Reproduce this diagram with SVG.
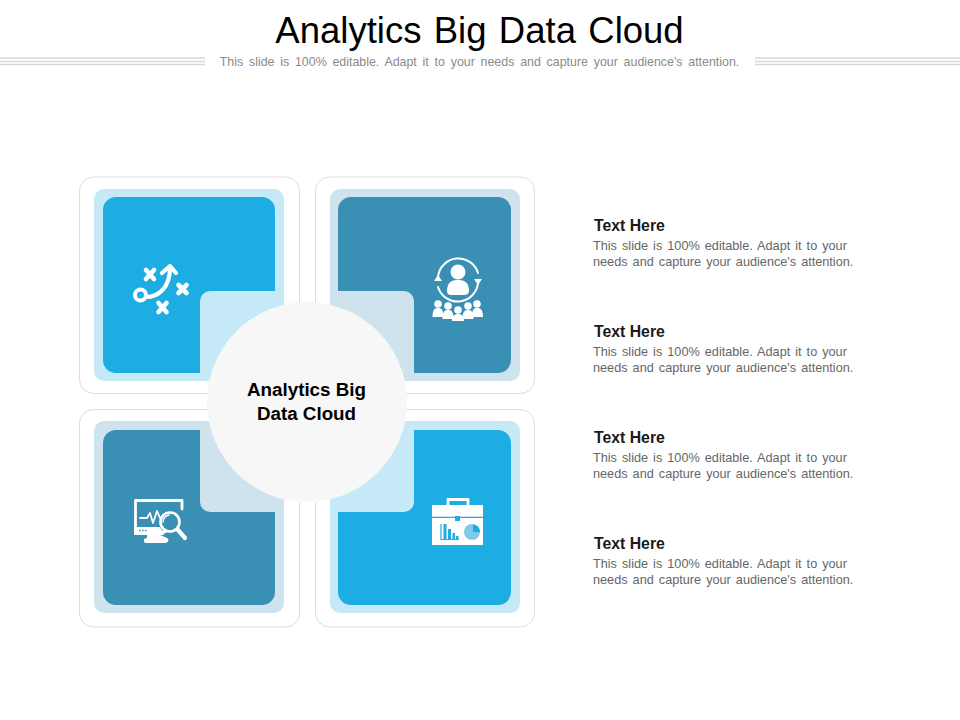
<svg xmlns="http://www.w3.org/2000/svg" width="960" height="720" viewBox="0 0 960 720">
<style>
text{font-family:"Liberation Sans",Arial,sans-serif}
.card{fill:#fff;stroke:#dcdcdc;stroke-width:1}
.lb{fill:#c6e9f7}.lt{fill:#cfe3ee}.b{fill:#1dade3}.t{fill:#3a8fb5}
.h{font-size:15.800px;font-weight:bold;fill:#1a1a1a}
.d{font-size:12.700px;fill:#666;word-spacing:1.500px}
.w{fill:#fff}.ws{fill:none;stroke:#fff;stroke-linecap:round;stroke-linejoin:round}
.rule{stroke:#d9d9d9;fill:none}
</style>
<rect width="960" height="720" fill="#fff"/>
<g id="header">
<text x="479.500" y="43" font-size="36.500" text-anchor="middle" fill="#000" word-spacing="2.200">Analytics Big Data Cloud</text>
<text x="479.500" y="65.500" font-size="12.400" text-anchor="middle" fill="#8a8a8a" word-spacing="2.350">This slide is 100% editable. Adapt it to your needs and capture your audience's attention.</text>
<path class="rule" d="M0 58H205M0 61.500H205M0 64.500H205M755 58H960M755 61.500H960M755 64.500H960" stroke-width="1.300"/>
</g>
<g id="node-top-left">
<rect class="card" x="79.500" y="177" width="220" height="216.500" rx="14"/>
<rect class="lb" x="94" y="189" width="190" height="192" rx="10"/>
<rect class="b" x="103" y="197" width="172" height="176" rx="13"/>
<path class="ws" stroke-width="4.200" d="M146 297C158 297 170 288 170 268"/>
<path class="ws" stroke-width="4.200" d="M162 273L170 266L176 273"/>
<circle cx="140.500" cy="295" r="5.500" fill="none" stroke="#fff" stroke-width="4"/>
<path class="ws" stroke-width="4.600" d="M146 270L154 279M154 270L146 279M178.500 285L186.500 293M186.500 285L178.500 293M158.500 303L166.500 312M166.500 303L158.500 312"/>
</g>
<g id="node-top-right">
<rect class="card" x="315.500" y="177" width="219" height="216.500" rx="14"/>
<rect class="lt" x="330" y="189" width="190" height="192" rx="10"/>
<rect class="t" x="338" y="197" width="173" height="176" rx="13"/>
<path class="ws" stroke-width="2" d="M438 277A20.500 20.500 0 0 1 478 273M478 283A20.500 20.500 0 0 1 438 287"/>
<path class="w" d="M434 281L438 275L442 281ZM474 279L478 285L482 279Z"/>
<circle class="w" cx="458" cy="272" r="7.500"/>
<path class="w" d="M447 291C447 282 452 280 458 280C464 280 469 282 469 291C469 294 466 295 465 295H451C449 295 447 294 447 291Z"/>
<g class="w">
<circle cx="438" cy="304" r="3.800"/><path d="M432.500 317C432.500 309 435 308 438 308C441 308 443.500 309 443.500 317Z"/>
<circle cx="448" cy="306" r="3.800"/><path d="M442.500 319C442.500 311 445 310 448 310C451 310 453.500 311 453.500 319Z"/>
<circle cx="458" cy="310" r="3.800"/><path d="M452 321C452 315 455 314 458 314C461 314 464 315 464 321Z"/>
<circle cx="468" cy="306" r="3.800"/><path d="M462.500 319C462.500 311 465 310 468 310C471 310 473.500 311 473.500 319Z"/>
<circle cx="477" cy="304" r="3.800"/><path d="M472 317C472 309 474 308 477 308C480 308 483 309 483 317Z"/>
</g>
</g>
<g id="node-bottom-left">
<rect class="card" x="79.500" y="409.500" width="220" height="217.500" rx="14"/>
<rect class="lt" x="94" y="421" width="190" height="192" rx="10"/>
<rect class="t" x="103" y="430" width="172" height="175" rx="13"/>
<path class="ws" stroke-width="2.800" d="M135.500 500.500H182V509M135.500 500.500V532H165"/>
<path class="w" d="M134 527H160L164 535H134Z"/>
<path class="w" d="M147 534H158L167 538C170 540 168 543 165 543H146C143 543 143 538 147 538Z"/>
<path class="ws" stroke-width="1.800" d="M140 518H147L150 513L153 523L157 511L160 518H166C169 514 172 512 176 514"/>
<circle cx="170" cy="522" r="9.500" fill="#3a8fb5" stroke="#fff" stroke-width="2.600"/>
<path class="ws" stroke-width="4.200" d="M178 530L185 538"/>
<path class="ws" stroke-width="1.500" d="M163 522A7 7 0 0 1 169 515"/>
<path d="M139 530.500H140.500M142 530.500H143.500M145 530.500H146.500" stroke="#3a8fb5" stroke-width="1.500" fill="none"/>
</g>
<g id="node-bottom-right">
<rect class="card" x="315.500" y="409.500" width="219" height="217.500" rx="14"/>
<rect class="lb" x="330" y="421" width="190" height="192" rx="10"/>
<rect class="b" x="338" y="430" width="173" height="175" rx="13"/>
<path class="ws" stroke-width="2.800" d="M448 505V499.500H468V505"/>
<rect class="w" x="432" y="505" width="51" height="12"/>
<path d="M432 517.500H483" stroke="#1dade3" stroke-width="1.500"/>
<rect class="w" x="432" y="518" width="51" height="27"/>
<rect x="455" y="516" width="5" height="5" fill="#1dade3"/>
<path d="M441 524V539.500H459" fill="none" stroke="#1dade3" stroke-width="1.200"/>
<path d="M443.500 524h3v15h-3zM448 529h3v10h-3zM452.500 533h2.500v6h-2.500zM456 536h2.500v3H456z" fill="#1dade3"/>
<circle cx="472" cy="532" r="8" fill="#7fc9ea"/>
<path d="M473 524.500A7.500 7.500 0 0 1 480 532H473Z" fill="#1dade3"/>
</g>
<g id="node-center">
<path class="lb" d="M284 381H200V301A10 10 0 0 1 210 291H284Z"/>
<path class="lt" d="M330 381H414V301A10 10 0 0 0 404 291H330Z"/>
<path class="lt" d="M284 421H200V502A10 10 0 0 0 210 512H284Z"/>
<path class="lb" d="M330 421H414V502A10 10 0 0 1 404 512H330Z"/>
<circle cx="307" cy="402" r="100" fill="#f7f7f7"/>
<text x="306.500" y="396" font-size="18.800" font-weight="bold" text-anchor="middle" fill="#000">Analytics Big</text>
<text x="306.500" y="420" font-size="18.800" font-weight="bold" text-anchor="middle" fill="#000">Data Cloud</text>
</g>
<g id="node-text-1"><text class="h" x="594" y="231">Text Here</text>
<text class="d" x="593" y="250">This slide is 100% editable. Adapt it to your</text>
<text class="d" x="593" y="266">needs and capture your audience's attention.</text></g>
<g id="node-text-2"><text class="h" x="594" y="337">Text Here</text>
<text class="d" x="593" y="356">This slide is 100% editable. Adapt it to your</text>
<text class="d" x="593" y="372">needs and capture your audience's attention.</text></g>
<g id="node-text-3"><text class="h" x="594" y="443">Text Here</text>
<text class="d" x="593" y="462">This slide is 100% editable. Adapt it to your</text>
<text class="d" x="593" y="478">needs and capture your audience's attention.</text></g>
<g id="node-text-4"><text class="h" x="594" y="549">Text Here</text>
<text class="d" x="593" y="568">This slide is 100% editable. Adapt it to your</text>
<text class="d" x="593" y="584">needs and capture your audience's attention.</text></g>
<g id="connectors"/>
</svg>
